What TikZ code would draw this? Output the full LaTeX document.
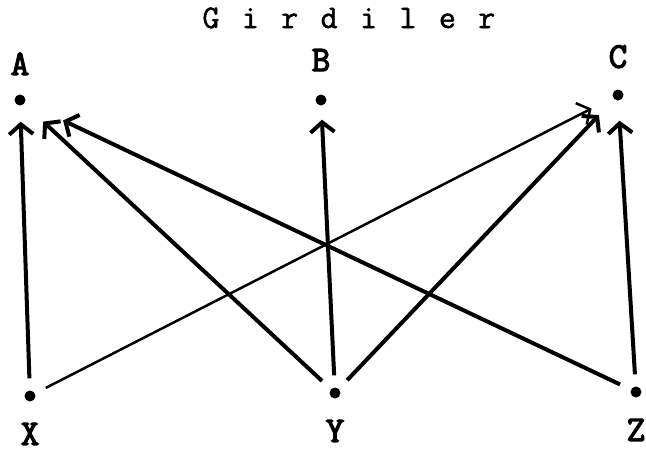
\documentclass[tikz,border=0pt]{standalone}
\usepackage{fontspec}
\newfontfamily\typefont{Latin Modern Mono}[FakeBold=1.5]
\newfontfamily\boldtypefont{Latin Modern Mono}[FakeBold=3.5]
\usetikzlibrary{arrows.meta,positioning}
\tikzset{
  pt/.style={circle,fill=black,inner sep=0pt,minimum size=11pt},
  lbl/.style={font=\boldtypefont\fontsize{36}{40}\selectfont,inner sep=1pt},
  ttl/.style={font=\typefont\fontsize{33}{36}\selectfont,inner sep=0pt},
  edge/.style={line width=4pt,-{Straight Barb[length=10pt,width=24pt]},shorten <=12pt},
}

\begin{document}
\begin{tikzpicture}[x=1pt,y=-1pt]
\useasboundingbox (0,0) rectangle (646,459);
% title, letter by letter
\foreach \c [count=\i from 0] in {G,i,r,d,i,l,e,r}{
  \node[ttl,anchor=base] (t\i) at (211+39.4*\i,28) {\c};
}
% points
\foreach \n/\x/\y in {A/20/100,B/321/100,C/618/95,X/30/396,Y/335/393,Z/636/392}{
  \node[pt] (\n) at (\x,\y) {};
}
\node[lbl,above=18pt of A] (lA) {A};
\node[lbl,above=22pt of B] (lB) {B};
\node[lbl,above=20pt of C] (lC) {C};
\foreach \n in {X,Y,Z}{
  \node[lbl,below=20pt of \n] (l\n) {\n};
}
% arrows
\foreach \s/\t/\d in {X/A/16,Y/A/26,Z/A/42,Y/B/14,Y/C/22,Z/C/20}{
  \draw[edge,shorten >=\d pt] (\s) -- (\t);
}
\draw[edge,line width=2.5pt,shorten >=24pt] (X) -- (C);
\end{tikzpicture}
\end{document}
